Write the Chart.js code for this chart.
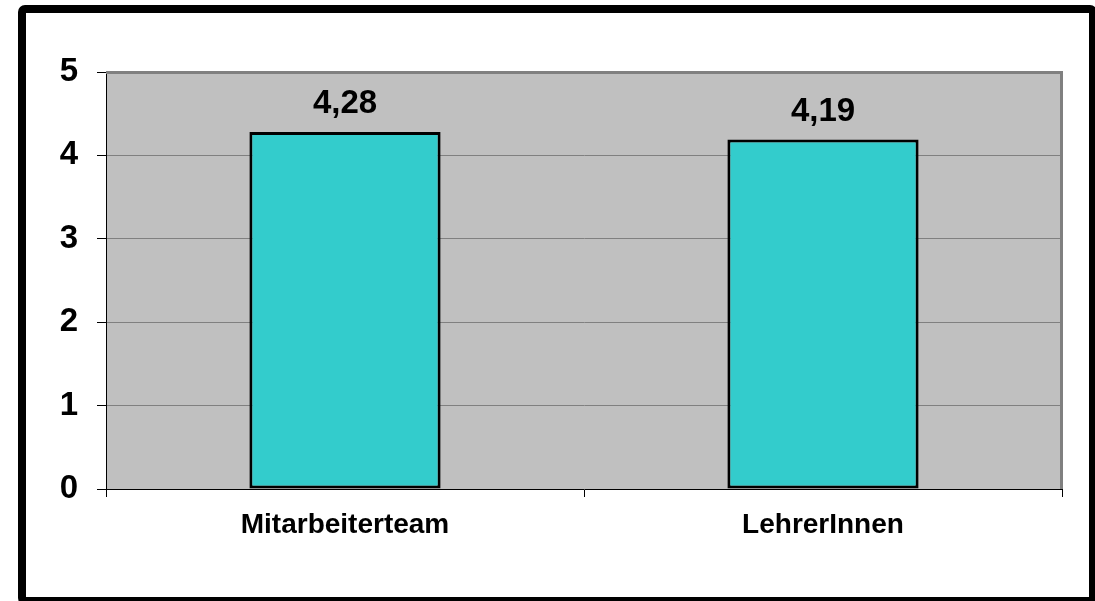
<!DOCTYPE html>
<html>
<head>
<meta charset="utf-8">
<script src="https://cdn.jsdelivr.net/npm/chart.js@4/dist/chart.umd.min.js"></script>
<style>
  html, body { margin: 0; padding: 0; background: #fff; overflow: hidden; }
  #wrap { position: absolute; left: 0; top: 0; width: 1095px; height: 601px; }
  #frame { position: absolute; left: 18px; top: 5px; width: 1079px; height: 600px; box-sizing: border-box;
           border: 8px solid #000; border-radius: 7px; pointer-events: none; }
  canvas { position: absolute; left: 0; top: 0; }
</style>
</head>
<body>
<div id="wrap">
  <canvas id="c" width="1095" height="601"></canvas>
  <div id="frame"></div>
</div>
<script>
const categories = ['Mitarbeiterteam', 'LehrerInnen'];
const values = [4.28, 4.19];
const yTicks = [0, 1, 2, 3, 4, 5];

const FONT = "'Liberation Sans', Arial, sans-serif";

const plotDecor = {
  id: 'plotDecor',
  beforeDraw(chart) {
    const a = chart.chartArea, ctx = chart.ctx;
    ctx.save();
    ctx.fillStyle = '#C0C0C0';
    ctx.fillRect(a.left, a.top, a.right - a.left, a.bottom - a.top);
    ctx.restore();
  },
  beforeDatasetsDraw(chart) {
    const a = chart.chartArea, ctx = chart.ctx;
    ctx.save();
    ctx.strokeStyle = '#808080';
    ctx.lineWidth = 3;
    ctx.beginPath();
    ctx.moveTo(a.left, a.top + 0.5);
    ctx.lineTo(a.right - 0.5, a.top + 0.5);
    ctx.lineTo(a.right - 0.5, a.bottom);
    ctx.stroke();
    ctx.restore();
  },
  afterDatasetsDraw(chart) {
    const ctx = chart.ctx;
    const meta = chart.getDatasetMeta(0);
    ctx.save();
    ctx.fillStyle = '#000';
    ctx.font = 'bold 33px ' + FONT;
    ctx.textAlign = 'center';
    ctx.textBaseline = 'middle';
    meta.data.forEach((bar, i) => {
      ctx.fillText(values[i].toFixed(2).replace('.', ','), bar.x, bar.y - 28);
    });
    ctx.restore();
  }
};

new Chart(document.getElementById('c'), {
  type: 'bar',
  data: {
    labels: categories,
    datasets: [{
      data: values,
      backgroundColor: '#33CCCC',
      borderColor: '#000',
      borderWidth: 3,
      borderSkipped: false,
      barPercentage: 0.4,
      categoryPercentage: 1.0
    }]
  },
  options: {
    responsive: false,
    animation: false,
    devicePixelRatio: 1,
    layout: { padding: { left: 0, top: 72, right: 33, bottom: 0 } },
    plugins: { legend: { display: false }, tooltip: { enabled: false }, title: { display: false } },
    scales: {
      x: {
        afterFit(s) { s.height = 112; },
        grid: { drawOnChartArea: false, drawTicks: true, tickLength: 8, tickColor: '#000', offset: true },
        border: { display: true, color: '#000', width: 1 },
        ticks: { color: '#000', font: { family: FONT, size: 28, weight: 'bold' }, padding: 11, maxRotation: 0 }
      },
      y: {
        min: 0, max: 5,
        afterFit(s) { s.width = 106; },
        afterBuildTicks(s) { s.ticks = yTicks.map(v => ({ value: v })); },
        grid: {
          color: (c) => (c.tick && (c.tick.value === 0 || c.tick.value === 5)) ? 'rgba(0,0,0,0)' : '#808080',
          lineWidth: 1,
          drawTicks: true, tickLength: 9, tickColor: '#000'
        },
        border: { display: true, color: '#000', width: 1 },
        ticks: { color: '#000', font: { family: FONT, size: 33, weight: 'bold' }, padding: 19, stepSize: 1 }
      }
    }
  },
  plugins: [plotDecor]
});
</script>
</body>
</html>
